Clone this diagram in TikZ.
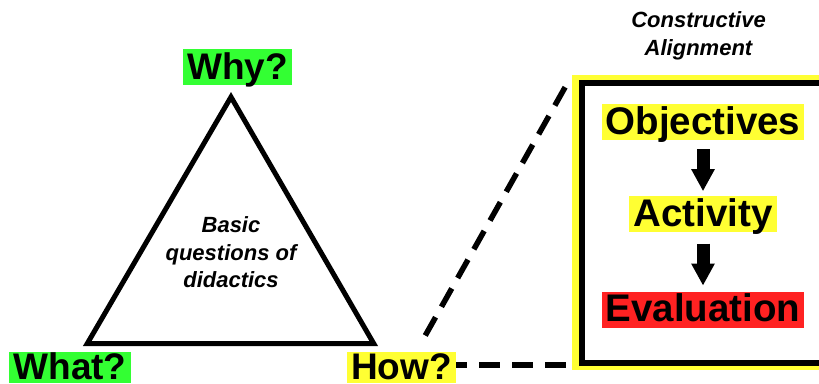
\documentclass[tikz,border=0pt]{standalone}
\usepackage{fontspec}
\setmainfont{Liberation Sans}
\usepackage{tikz}
\usetikzlibrary{arrows.meta, calc, positioning}
\definecolor{qgreen}{HTML}{33FF33}
\definecolor{qyellow}{HTML}{FFFF33}
\definecolor{qred}{HTML}{FF2222}

\begin{document}
\begin{tikzpicture}[x=1pt, y=-1pt,
    question/.style={font=\bfseries\fontsize{37}{40}\selectfont, inner xsep=4pt, inner ysep=0pt, text height=30.3pt, text depth=5.5pt, anchor=base},
    stage/.style={font=\bfseries\fontsize{38.5}{42}\selectfont, inner xsep=4pt, inner ysep=0pt, text height=30pt, text depth=6pt},
    note/.style={font=\bfseries\itshape\fontsize{22}{27.5}\selectfont, align=center, inner sep=0pt},
    dashline/.style={line width=5.5pt, dash pattern=on 21pt off 12pt},
    flow/.style={line width=13pt, -{Triangle[width=22pt, length=22pt]}}]
  \useasboundingbox (0,0) rectangle (819,383);
  \clip (0,0) rectangle (819,383);
  % frame of the alignment box
  \fill[qyellow] (572,75) rectangle (850,370);
  \node (frame) [draw, line width=6pt, fill=white, anchor=north west, minimum width=268pt, minimum height=280pt] at (578.5,79.5) {};
  \node (title) [note, inner sep=0pt] at (698.5,35.7) {Constructive\\Alignment};
  % triangle
  \coordinate (top) at (231,97);
  \coordinate (left) at (87.3,343.5);
  \coordinate (right) at (373.7,343.5);
  \draw[line width=5pt] (top) -- (left) -- (right) -- cycle;
  \node (basic) [note] at (231,252.5) {Basic\\questions of\\didactics};
  \node (why) [question, fill=qgreen] at (237.5,79) {Why?};
  \node (what) [question, fill=qgreen, text height=28pt, text depth=3.5pt] at (70,379.5) {What?};
  \node (how) [question, fill=qyellow, text height=28pt, text depth=3.5pt] at (401.5,379.5) {How?};
  % zoom lines
  \draw[dashline, shorten <=14pt] ($(frame.north west)+(-6.5,-4.5)$) -- ($(how.north)+(20.5,-10)$);
  \draw[dashline, shorten <=13pt] (frame.west |- 0,365) -- (how.east |- 0,365);
  % stages
  \node (obj) [stage, fill=qyellow, anchor=base] at (703,134) {Objectives};
  \node (act) [stage, fill=qyellow, below=56pt of obj] {Activity};
  \node (eval) [stage, fill=qred, below=59pt of act] {Evaluation};
  \draw[flow, shorten <=9pt, shorten >=5pt] (obj.south) -- (act.north);
  \draw[flow, shorten <=11pt, shorten >=6pt] (act.south) -- (eval.north);
\end{tikzpicture}
\end{document}
